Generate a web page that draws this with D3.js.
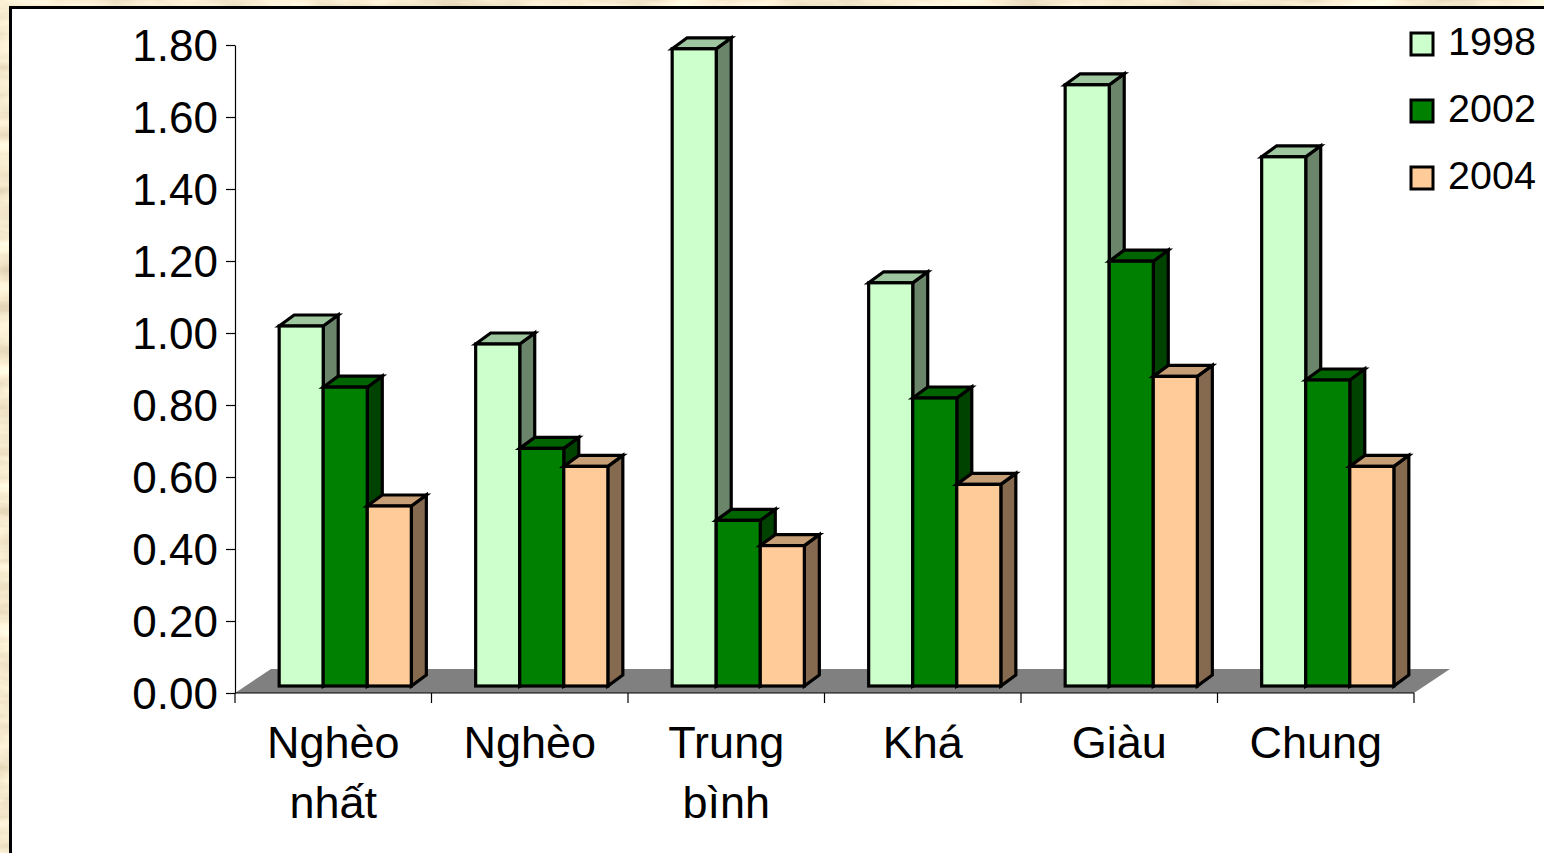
<!DOCTYPE html>
<html>
<head>
<meta charset="utf-8">
<script src="https://cdn.jsdelivr.net/npm/d3@7/dist/d3.min.js"></script>
<style>
  html, body { margin: 0; padding: 0; background: #e6d2a6; overflow: hidden; }
  svg { display: block; }
  text { font-family: "Liberation Sans", Arial, sans-serif; fill: #000; }
</style>
</head>
<body>
<svg id="chart" width="1544" height="853"></svg>
<script>
// Household groups and yearly values
const categories = ["Nghèo nhất", "Nghèo", "Trung bình", "Khá", "Giàu", "Chung"];
const years = ["1998", "2002", "2004"];
const values1998 = [1.00, 0.95, 1.77, 1.12, 1.67, 1.47];
const values2002 = [0.83, 0.66, 0.46, 0.80, 1.18, 0.85];
const values2004 = [0.50, 0.61, 0.39, 0.56, 0.86, 0.61];
const yTicks = [0, 0.2, 0.4, 0.6, 0.8, 1.0, 1.2, 1.4, 1.6, 1.8];
const seriesColors = ["#CCFFCC", "#008000", "#FFCC99"];

const series = [values1998, values2002, values2004];

const svg = d3.select("#chart");
const W = 1544, H = 853;

// Parchment backdrop
const defs = svg.append("defs");
const f = defs.append("filter").attr("id", "parchment")
  .attr("x", 0).attr("y", 0).attr("width", "100%").attr("height", "100%");
f.append("feTurbulence").attr("type", "fractalNoise")
  .attr("baseFrequency", "0.012 0.05").attr("numOctaves", 4).attr("seed", 7).attr("result", "n");
f.append("feColorMatrix").attr("in", "n").attr("type", "matrix")
  .attr("values", "0.6 0 0 0 0.62  0.6 0 0 0 0.52  0.6 0 0 0 0.32  0 0 0 0 1");
svg.append("rect").attr("width", W).attr("height", H).attr("filter", "url(#parchment)");

// White chart panel with black frame
svg.append("rect")
  .attr("x", 10.5).attr("y", 7.5).attr("width", W + 20).attr("height", H + 20)
  .attr("fill", "#fff").attr("stroke", "#000").attr("stroke-width", 3);

// Scales
const x = d3.scaleBand().domain(categories).range([235, 1414]).paddingInner(0).paddingOuter(0);
const xs = d3.scaleBand().domain(years).range([0, x.bandwidth()]).paddingInner(0).paddingOuter(0.73);
const y = d3.scaleLinear().domain([0, 1.8]).range([693, 45]);

// Oblique projection offsets
const floorDepth = [36, -24];
const barShift = [12, -7];
const barDepth = [15, -11];

// Floor
const x0 = x.range()[0], x1 = x.range()[1], y0 = y(0);
svg.append("path")
  .attr("d", d3.line()([[x0, y0], [x1, y0], [x1 + floorDepth[0], y0 + floorDepth[1]], [x0 + floorDepth[0], y0 + floorDepth[1]]]))
  .attr("fill", "#808080");

// Value axis
const yAxis = svg.append("g").attr("transform", `translate(${x0},0)`)
  .call(d3.axisLeft(y).tickValues(yTicks).tickFormat(d3.format(".2f")).tickSize(9).tickPadding(8).tickSizeOuter(0));
yAxis.select(".domain").attr("stroke", "#000").attr("stroke-width", 1.2);
yAxis.selectAll(".tick line").attr("stroke", "#000").attr("stroke-width", 1.2);
yAxis.selectAll(".tick text").attr("font-size", 44).attr("font-family", "Liberation Sans, Arial, sans-serif").attr("dy", "0.36em").attr("fill", "#000");

// Category axis line and boundary ticks
svg.append("line").attr("x1", x0).attr("x2", x1).attr("y1", y0).attr("y2", y0)
  .attr("stroke", "#000").attr("stroke-width", 1.2);
const bounds = categories.map(c => x(c)).concat([x1]);
svg.selectAll("line.bound").data(bounds).join("line").attr("class", "bound")
  .attr("x1", d => d).attr("x2", d => d).attr("y1", y0).attr("y2", y0 + 10)
  .attr("stroke", "#000").attr("stroke-width", 1.2);

// Category labels, wrapped onto two lines where too wide
const labels = svg.append("g");
categories.forEach(c => {
  const cx = x(c) + x.bandwidth() / 2;
  const t = labels.append("text").attr("x", cx).attr("y", 758).attr("text-anchor", "middle")
    .attr("font-size", 45).text(c);
  if (t.node().getComputedTextLength() > x.bandwidth() - 10) {
    const words = c.split(" ");
    t.text(null);
    words.forEach((w, i) => {
      t.append("tspan").attr("x", cx).attr("dy", i === 0 ? 0 : 60).text(w);
    });
  }
});

// 3D columns
const scaleColor = (c, k) => { const r = d3.rgb(c); return d3.rgb(r.r * k, r.g * k, r.b * k).formatHex(); };
const bars = svg.append("g");
categories.forEach((c, ci) => {
  years.forEach((yr, si) => {
    const v = series[si][ci];
    const bx = x(c) + xs(yr) + barShift[0];
    const bw = xs.bandwidth();
    const top = y(v) + barShift[1];
    const base = y(0) + barShift[1];
    const [dx, dy] = barDepth;
    const col = seriesColors[si];
    const g = bars.append("g").attr("stroke", "#000").attr("stroke-width", 3.2).attr("stroke-linejoin", "miter");
    g.append("path").attr("fill", scaleColor(col, 0.52))
      .attr("d", d3.line()([[bx + bw, base], [bx + bw, top], [bx + bw + dx, top + dy], [bx + bw + dx, base + dy]]) + "Z");
    g.append("path").attr("fill", scaleColor(col, 0.78))
      .attr("d", d3.line()([[bx, top], [bx + dx, top + dy], [bx + bw + dx, top + dy], [bx + bw, top]]) + "Z");
    g.append("rect").attr("x", bx).attr("y", top).attr("width", bw).attr("height", base - top)
      .attr("fill", col);
  });
});

// Legend
const legend = svg.append("g");
years.forEach((yr, i) => {
  const ly = 44 + i * 67;
  legend.append("rect").attr("x", 1411).attr("y", ly - 11).attr("width", 22).attr("height", 22)
    .attr("fill", seriesColors[i]).attr("stroke", "#000").attr("stroke-width", 3);
  legend.append("text").attr("x", 1448).attr("y", ly - 3).attr("dy", "0.36em")
    .attr("font-size", 39.5).text(yr);
});
</script>
</body>
</html>
